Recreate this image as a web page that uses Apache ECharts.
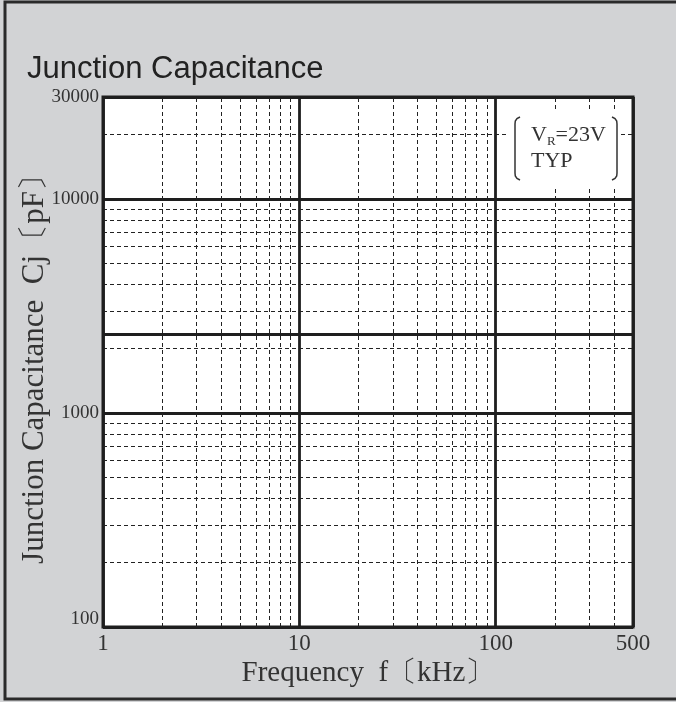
<!DOCTYPE html>
<html>
<head>
<meta charset="utf-8">
<style>html,body{margin:0;padding:0;background:#d2d3d5;}#c{width:676px;height:702px;}</style>
<script src="https://cdn.jsdelivr.net/npm/echarts@6/dist/echarts.min.js"></script>
</head>
<body>
<div id="c"></div>
<script>
// Data
var freqRange = [1, 500];           // kHz
var capRange = [100, 30000];        // pF
var xMinorLines = [2,3,4,5,6,7,8,9,20,30,40,50,60,70,80,90,200,300,400];
var yMinorLines = [200,300,400,500,600,700,800,900,2000,3000,4000,5000,6000,7000,8000,9000,20000];
var curveFreq = [1, 500];
var curveCap = [2330, 2330];

var serif = "'Liberation Serif','Times New Roman',serif";
var ink = '#1e1e1e';

var chart = echarts.init(document.getElementById('c'), null, {renderer: 'canvas'});

var minorMarks = xMinorLines.map(function (v) { return {xAxis: v}; })
  .concat(yMinorLines.map(function (v) { return {yAxis: v}; }));

chart.setOption({
  backgroundColor: '#d2d3d5',
  animation: false,
  title: {
    text: 'Junction Capacitance',
    left: 22, top: 49,
    textStyle: {fontFamily: "'Liberation Sans',Arial,sans-serif", fontSize: 31, fontWeight: 'normal', color: '#222'}
  },
  grid: {
    left: 103, right: 43, top: 97, bottom: 75,
    show: true, backgroundColor: '#ffffff', borderColor: ink, borderWidth: 3
  },
  xAxis: {
    type: 'log', logBase: 10, min: freqRange[0], max: freqRange[1],
    name: 'Frequency  f〔kHz〕', nameLocation: 'middle', nameGap: 32, nameMoveOverlap: false,
    nameTextStyle: {fontFamily: serif, fontSize: 29, color: '#333'},
    axisLine: {show: false}, axisTick: {show: false},
    axisLabel: {margin: 5, fontFamily: serif, fontSize: 23, color: '#333',
      formatter: function (v) { return String(Math.round(v)); }},
    splitLine: {show: true, lineStyle: {color: ink, width: 2.8, type: 'solid'}}
  },
  yAxis: {
    type: 'log', logBase: 10, min: capRange[0], max: capRange[1],
    name: 'Junction Capacitance  Cj〔pF〕', nameLocation: 'middle', nameGap: 53, nameMoveOverlap: false,
    nameTextStyle: {fontFamily: serif, fontSize: 31, color: '#333'},
    axisLine: {show: false}, axisTick: {show: false},
    axisLabel: {margin: 4, fontFamily: serif, fontSize: 19, color: '#333',
      formatter: function (v) {
        var s = String(Math.round(v));
        return Math.round(v) === capRange[0] ? '{lo|' + s + '}' : s;
      },
      rich: {lo: {fontFamily: serif, fontSize: 19, color: '#333', padding: [0, 0, 16, 0]}}
    },
    splitLine: {show: true, lineStyle: {color: ink, width: 2.8, type: 'solid'}}
  },
  series: [{
    type: 'line',
    data: curveFreq.map(function (f, i) { return [f, curveCap[i]]; }),
    symbol: 'none',
    lineStyle: {color: ink, width: 3},
    z: 5,
    markLine: {
      silent: true, symbol: 'none', animation: false,
      label: {show: false},
      lineStyle: {color: '#222', width: 1, type: [4, 3]},
      data: minorMarks,
      z: 1
    }
  }],
  graphic: [
    {type: 'rect', z: 100, shape: {x: 508, y: 112, width: 112, height: 74}, style: {fill: '#ffffff'}},
    {type: 'polyline', z: 101, shape: {points: [[520,117],[517,118.5],[515.3,121],[515,124],[515,173],[515.3,176],[517,178.5],[520,180]]},
      style: {fill: null, stroke: '#333', lineWidth: 1.5}},
    {type: 'polyline', z: 101, shape: {points: [[612,117],[615,118.5],[616.7,121],[617,124],[617,173],[616.7,176],[615,178.5],[612,180]]},
      style: {fill: null, stroke: '#333', lineWidth: 1.5}},
    {type: 'text', z: 101, x: 531, y: 120, style: {
      text: '{v|V}{s|R}{v|=23V}\n{v|TYP}',
      rich: {
        v: {fontFamily: serif, fontSize: 22, lineHeight: 26, fill: '#333', verticalAlign: 'bottom'},
        s: {fontFamily: serif, fontSize: 13, lineHeight: 26, fill: '#333', verticalAlign: 'bottom', padding: [0,0,-2,0]}
      }
    }},
    {type: 'rect', z: 200, silent: true, shape: {x: 5, y: 2, width: 700, height: 697},
      style: {fill: null, stroke: '#2a2a2a', lineWidth: 3}}
  ]
});
</script>
</body>
</html>
